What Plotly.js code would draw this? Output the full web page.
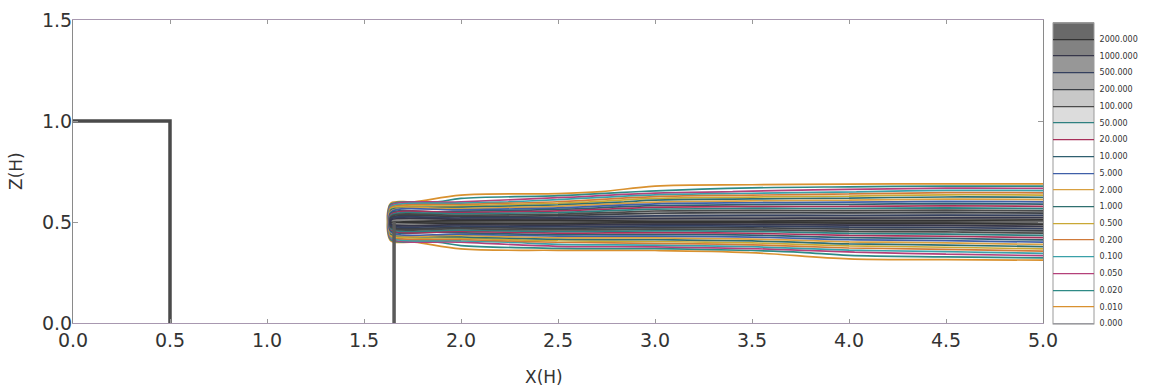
<!DOCTYPE html>
<html>
<head>
<meta charset="utf-8">
<script src="https://cdn.plot.ly/plotly-3.0.1.min.js"></script>
<style>html,body{margin:0;padding:0;background:#fff;}#chart{width:1151px;height:390px;}</style>
</head>
<body>
<div id="chart"></div>
<script>
// ---- data ----
// contour levels (colour bar)
var levelValues = [0, 0.01, 0.02, 0.05, 0.1, 0.2, 0.5, 1, 2, 5, 10, 20, 50, 100, 200, 500, 1000, 2000];
// grid of the concentration field: x stations (H) and heights z (H)
var plumeX = [0, 1.62, 1.64, 2.0, 2.5, 3.0, 3.5, 4.0, 4.5, 5.0];
var plumeZ = [0, 0.25, 0.30, 0.35, 0.40, 0.45, 0.50, 0.55, 0.60, 0.65, 0.70, 0.75, 1.5];
// concentration at each (z row, x column)
var conc = [
  [0, 0, 0,    0,    0,    0,     0,      0,     0,     0],
  [0, 0, 0,    0,    0,    0,     0,      0,     0,     0],
  [0, 0, 0,    0,    0,    0,     0,      0,     0,     0],
  [0, 0, 0,    0,    0,    0,     0.0104, 0.046, 0.081, 0.14],
  [0, 0, 0,    0.05, 0.21, 0.35,  0.64,   1.74,  2.6,   5],
  [0, 0, 5,    14,   35,   25,    35,     76,    93,    141],
  [0, 0, 4000, 4000, 4000, 2400,  2400,   2830,  2830,  4000],
  [0, 0, 5,    14,   35,   141,   174,    152,   174,   141],
  [0, 0, 0,    0.05, 0.21, 1.87,  3.16,   4.2,   5.7,   5],
  [0, 0, 0,    0,    0,    0.025, 0.057,  0.093, 0.15,  0.14],
  [0, 0, 0,    0,    0,    0,     0,      0,     0,     0],
  [0, 0, 0,    0,    0,    0,     0,      0,     0,     0],
  [0, 0, 0,    0,    0,    0,     0,      0,     0,     0]
];
// building outline and stack
var buildingX = [0, 0.5, 0.5];
var buildingZ = [1.0, 1.0, 0];
var stackX = [1.655, 1.655];
var stackZ = [0, 0.5];
// colours: fill band above each level, and line colour of each level
var bandColors = ['#ffffff','#ffffff','#ffffff','#ffffff','#ffffff','#ffffff','#ffffff','#ffffff','#ffffff','#ffffff','#ffffff',
                  '#ebebeb','#dcdcdc','#c8c8c8','#adadad','#979797','#828282','#696969'];
var lineColors = ['#9a9aa0','#d9912f','#2e8a86','#b4407a','#3aa0a8','#d07a3a','#c9a834','#2f6f6f','#d8a040','#3f5fa8','#2f5f6f',
                  '#a8305a','#2e8080','#4a4a4a','#3c4046','#34405e','#36364a','#333333'];

// ---- helpers ----
function levelIndex(c) {
  var L = levelValues, n = L.length;
  if (c <= 0) return 0;
  if (c < L[1]) return c / L[1];
  for (var k = 1; k < n - 1; k++) {
    if (c < L[k + 1]) return k + Math.log(c / L[k]) / Math.log(L[k + 1] / L[k]);
  }
  return Math.min(n, (n - 1) + Math.log(c / L[n - 1]) / Math.log(2));
}
var idxGrid = conc.map(function (row) { return row.map(levelIndex); });
var nLev = levelValues.length - 1;         // 17 = index of the top level
var cbTop = nLev + 1;                       // 18 = top of the colour bar
var fillScale = bandColors.map(function (c, j) { return [j / nLev, c]; });
// plotted lines (levels 1..17)
var plotLineColors = lineColors.slice(1, nLev + 1);
var lineScale = plotLineColors.map(function (c, j) { return [j / (plotLineColors.length - 1), c]; });
// colour bar bands (heatmap steps from 0 to 18)
var cbBandScale = [];
bandColors.forEach(function (c, j) {
  cbBandScale.push([j / cbTop, c]);
  cbBandScale.push([(j + 1) / cbTop, c]);
});
// colour bar lines (levels 0..18)
var cbLineColors = lineColors.concat(['#9a9a9a']);
var cbLineScale = cbLineColors.map(function (c, j) { return [j / (cbLineColors.length - 1), c]; });
var tickText = levelValues.map(function (v) { return v.toFixed(3); });
var tickVals = levelValues.map(function (v, i) { return i; });

var cbCommon = {
  x: (1053 - 73) / 970, xanchor: 'left', xpad: 0, ypad: 0,
  y: 0.5 - 1.5 / 303, yanchor: 'middle',
  len: 301, lenmode: 'pixels', thickness: 41, thicknessmode: 'pixels'
};

var fillTrace = {
  type: 'contour', x: plumeX, y: plumeZ, z: idxGrid,
  autocontour: false,
  contours: {start: 1, end: nLev, size: 1, coloring: 'fill', showlines: false},
  colorscale: fillScale, line: {width: 0}, showscale: false,
  hoverinfo: 'skip'
};
var lineTrace = {
  type: 'contour', x: plumeX, y: plumeZ, z: idxGrid,
  autocontour: false,
  contours: {start: 1, end: nLev, size: 1, coloring: 'lines', showlines: true},
  colorscale: lineScale, line: {width: 1.7}, showscale: false,
  hoverinfo: 'skip'
};
// colour bar: stepped bands (kept outside the visible x range)
var cbBands = {
  type: 'heatmap', x: [6, 7], y: [0, 1], z: [[0, cbTop], [0, cbTop]],
  zmin: 0, zmax: cbTop, colorscale: cbBandScale, hoverinfo: 'skip',
  colorbar: Object.assign({}, cbCommon, {
    tickmode: 'array', tickvals: tickVals, ticktext: tickText,
    ticks: 'outside', ticklen: 4, tickcolor: 'rgba(0,0,0,0)',
    outlinewidth: 1, outlinecolor: '#9a9a9a',
    tickfont: {family: 'DejaVu Sans', size: 8, color: '#333'}
  })
};
// colour bar: one line per level
var cbLines = {
  type: 'contour', x: [6, 7], y: [0, 1], z: [[0, cbTop], [0, cbTop]],
  autocontour: false,
  contours: {start: 0, end: cbTop, size: 1, coloring: 'lines', showlines: true},
  colorscale: cbLineScale, line: {width: 1.2}, hoverinfo: 'skip',
  colorbar: Object.assign({}, cbCommon, {showticklabels: false, ticks: '', outlinewidth: 0})
};
var building = {
  type: 'scatter', mode: 'lines', x: buildingX, y: buildingZ,
  line: {color: '#4a4a4a', width: 3.5}, hoverinfo: 'skip', showlegend: false
};
var stack = {
  type: 'scatter', mode: 'lines', x: stackX, y: stackZ,
  line: {color: '#5a5a5a', width: 3.5}, hoverinfo: 'skip', showlegend: false
};

var layout = {
  width: 1151, height: 390,
  margin: {l: 73, r: 108, t: 20, b: 67},
  paper_bgcolor: '#ffffff', plot_bgcolor: '#ffffff',
  font: {family: 'DejaVu Sans', color: '#333'},
  showlegend: false,
  xaxis: {
    range: [0, 5], dtick: 0.5, tick0: 0, tickformat: '.1f',
    showgrid: false, zeroline: false,
    showline: true, linecolor: '#a898b0', linewidth: 1, mirror: 'ticks',
    ticks: 'inside', ticklen: 4, tickcolor: '#999',
    tickfont: {family: 'DejaVu Sans', size: 19, color: '#333'}
  },
  yaxis: {
    range: [0, 1.5], dtick: 0.5, tick0: 0, tickformat: '.1f',
    showgrid: false, zeroline: false,
    showline: true, linecolor: '#8a8a8a', linewidth: 1, mirror: 'ticks',
    ticks: 'inside', ticklen: 5, tickcolor: '#999', ticklabelstandoff: -4,
    tickfont: {family: 'DejaVu Sans', size: 19, color: '#333'}
  },
  annotations: [
    {text: 'X(H)', xref: 'paper', yref: 'paper', x: (544 - 73) / 970, y: -(377 - 323) / 303,
     xanchor: 'center', yanchor: 'middle', showarrow: false,
     font: {family: 'DejaVu Sans', size: 17, color: '#333'}},
    {text: 'Z(H)', xref: 'paper', yref: 'paper', x: -(73 - 16) / 970, y: (323 - 171) / 303,
     xanchor: 'center', yanchor: 'middle', showarrow: false, textangle: -90,
     font: {family: 'DejaVu Sans', size: 17, color: '#333'}}
  ]
};

Plotly.newPlot('chart', [fillTrace, lineTrace, cbBands, cbLines, building, stack], layout, {displayModeBar: false, staticPlot: true});
</script>
</body>
</html>
